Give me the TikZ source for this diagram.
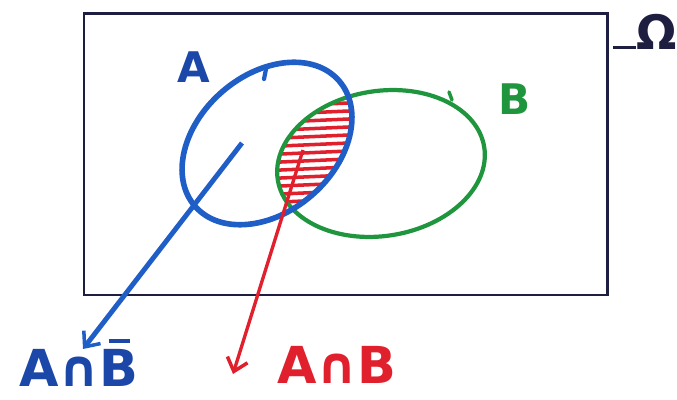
\documentclass[tikz,border=0pt]{standalone}
\usepackage{fontspec}
\setmainfont{DejaVu Sans}
\usetikzlibrary{arrows.meta, positioning}
\definecolor{frameblue}{HTML}{1E1E40}
\definecolor{setablue}{HTML}{1F5EC6}
\definecolor{textblue}{HTML}{1B47A8}
\definecolor{setbgreen}{HTML}{1F963E}
\definecolor{cutred}{HTML}{E0202C}
\newcommand{\barB}{{\ooalign{B\cr\hfil\rule[0.86em]{0.42em}{0.09em}\hfil\cr}}}
\tikzset{
  biglabel/.style={inner sep=0pt, anchor=base, font=\bfseries\fontsize{29}{31}\selectfont},
  setlabel/.style={inner sep=0pt, font=\bfseries\fontsize{24}{26}\selectfont},
  pointer/.style={-{Straight Barb[length=7pt, width=12pt, line width=2pt]}}
}
\begin{document}
\begin{tikzpicture}
  \useasboundingbox (0,0) rectangle (13.54,8);

  % universe
  \node[draw=frameblue, line width=1.7pt, minimum width=10.46cm, minimum height=5.62cm,
        inner sep=0pt] (omegabox) at (6.91,4.91) {};
  \node[font=\bfseries\fontsize{27}{29}\selectfont, text=frameblue, inner sep=0pt,
        anchor=base west] (omega) at (12.72,7.00) {Ω};
  \draw[frameblue, line width=1.8pt] ([yshift=1.5pt]omega.base west) -- ++(-0.46,0);

  % the hatched intersection
  \begin{scope}
    \clip (5.34,5.13) ellipse[x radius=1.91cm, y radius=1.37cm, rotate=41];
    \clip (7.62,4.73) ellipse[x radius=2.09cm, y radius=1.45cm, rotate=9];
    \foreach \y in {3.95,4.11,...,6.3}
      \draw[cutred, line width=2pt] (5.4,\y) -- (7.2,\y+0.08);
  \end{scope}

  % the two sets
  \draw[setbgreen, line width=2.4pt] (7.62,4.73) ellipse[x radius=2.09cm, y radius=1.45cm, rotate=9];
  \draw[setablue, line width=3.2pt] (5.34,5.13) ellipse[x radius=1.91cm, y radius=1.37cm, rotate=41];
  \draw[setablue, line width=2.4pt, line cap=round] (5.32,6.62) -- (5.28,6.42);
  \draw[setbgreen, line width=2pt, line cap=round] (8.98,6.16) -- (9.04,6.00);

  \node[setlabel, text=textblue] (labA) at (3.88,6.66) {A};
  \node[setlabel, text=setbgreen] (labB) at (10.30,6.02) {B};

  % pointers to the labels
  \node[biglabel, text=textblue] (lAnotB) at (1.58,0.26) {A∩\barB};
  \node[biglabel, text=cutred] (lAB) at (6.74,0.32) {A∩B};
  \coordinate (aIn) at (4.84,5.14);
  \coordinate (abIn) at (6.06,5.00);
  \coordinate (aTip) at (1.66,1.02);
  \coordinate (abTip) at (4.66,0.52);
  \draw[pointer, setablue, line width=2.8pt] (aIn) -- (aTip);
  \draw[pointer, cutred, line width=1.9pt] (abIn) -- (abTip);
\end{tikzpicture}
\end{document}
